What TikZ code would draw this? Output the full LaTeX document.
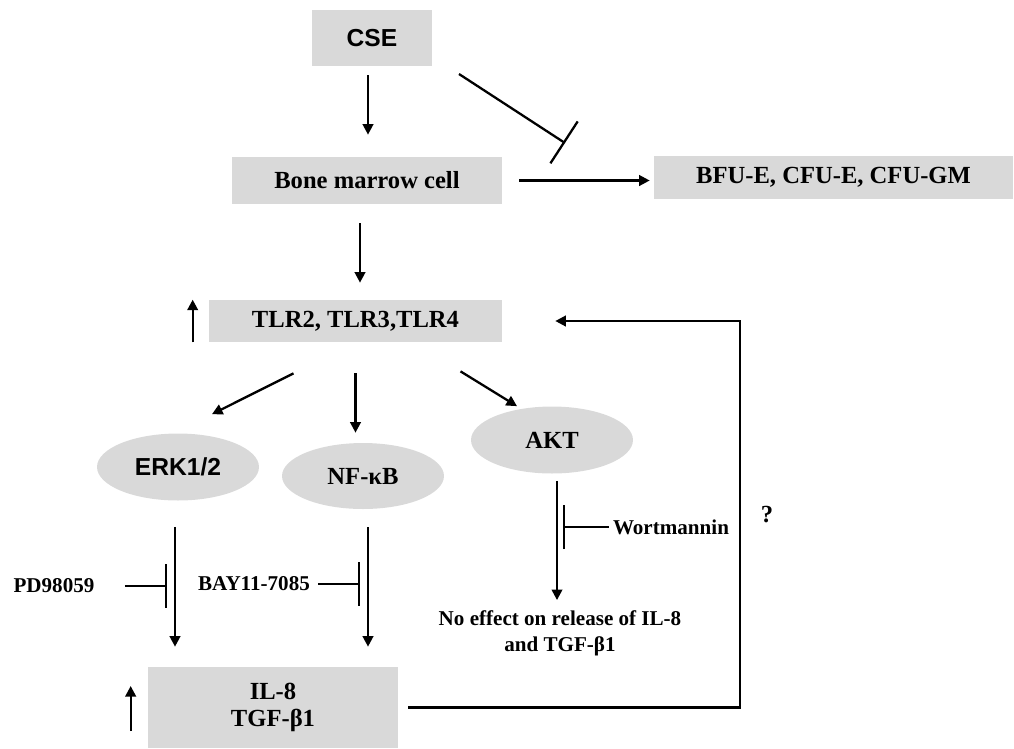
\documentclass[tikz,border=0pt]{standalone}
\usepackage{fontspec}
\setmainfont{Liberation Serif}
\newfontfamily\arialfont{Liberation Sans}
\usetikzlibrary{arrows.meta,shapes.geometric}
\definecolor{boxgray}{RGB}{217,217,217}
\begin{document}
\begin{tikzpicture}[x=0.02cm,y=-0.02cm,
    box/.style={fill=boxgray,inner sep=0pt,font=\fontsize{14}{15.5}\selectfont\bfseries},
    oval/.style={ellipse,fill=boxgray,inner sep=0pt,minimum width=3.24cm,minimum height=1.34cm,font=\fontsize{14}{16}\selectfont\bfseries},
    lbl/.style={inner sep=0pt,font=\fontsize{12}{14.7}\selectfont\bfseries},
    arr/.style={line width=1.3pt,-{Triangle[length=6pt,width=6pt]}},
    inh/.style={line width=1.3pt,-{Bar[width=#1]}},
    inh/.default=0.88cm]
    \useasboundingbox (0,0) rectangle (1014,748);
    \node[box,minimum width=2.4cm,minimum height=1.12cm,font=\fontsize{14}{16}\selectfont\arialfont\bfseries] (cse) at (372,38) {CSE};
    \node[box,minimum width=5.4cm,minimum height=0.94cm] (bmc) at (367,180.5) {Bone marrow cell};
    \node[box,minimum width=7.18cm,minimum height=0.86cm] (bfu) at (833.5,177.5) {BFU-E, CFU-E, CFU-GM};
    \node[box,minimum width=5.86cm,minimum height=0.84cm] (tlr) at (355.5,321) {TLR2, TLR3,TLR4};
    \node[oval,font=\fontsize{14}{16}\selectfont\arialfont\bfseries] (erk) at (178,467) {ERK1/2};
    \node[oval,minimum height=1.32cm] (nfkb) at (363,476) {NF-κB};
    \node[oval] (akt) at (552,440) {AKT};
    \node[box,minimum width=5cm,minimum height=1.62cm,align=center] (il8) at (273,707.5) {IL-8\\TGF-β1};
    \node[lbl] (pd) at (54,586) {PD98059};
    \node[lbl] (bay) at (254,584) {BAY11-7085};
    \node[lbl] (wort) at (671,527) {Wortmannin};
    \node[lbl,align=center] (noeff) at (560,633) {No effect on release of IL-8\\and TGF-β1};
    \node[lbl,font=\fontsize{14}{16}\selectfont\bfseries] (qm) at (767,515) {?};
    \coordinate (cutA) at (459,74);
    \coordinate (cutB) at (565,143);
    \coordinate (fb) at (740,500);
    \draw[arr,shorten <=0.18cm,shorten >=0.44cm] ([xshift=-0.08cm]cse.south) -- ([xshift=-0.08cm]cse.south |- bmc.north);
    \draw[inh=1cm] (cutA) -- (cutB);
    \draw[arr,shorten <=0.34cm,shorten >=0.08cm] (bmc.east) -- (bmc.east -| bfu.west);
    \draw[arr,shorten <=0.38cm,shorten >=0.34cm] ([xshift=-0.14cm]bmc.south) -- ([xshift=-0.14cm]bmc.south |- tlr.north);
    \draw[arr] ([shift={(-62,31)}]tlr.south) -- ([shift={(34,-19)}]erk.north);
    \draw[arr,shorten <=0.62cm,shorten >=0.2cm] (tlr.south) -- (tlr.south |- nfkb.north);
    \draw[arr] ([shift={(105,29)}]tlr.south) -- ([shift={(-35,0)}]akt.north);
    \draw[arr,shorten <=0.52cm,shorten >=0.4cm] ([xshift=-0.06cm]erk.south) -- ([xshift=-0.06cm]erk.south |- il8.north);
    \draw[arr,shorten <=0.36cm,shorten >=0.4cm] ([xshift=0.1cm]nfkb.south) -- ([xshift=0.1cm]nfkb.south |- il8.north);
    \draw[inh,shorten <=0.6cm,shorten >=0.22cm] (pd.east) -- (pd.east -| erk.south);
    \draw[inh,shorten <=0.16cm,shorten >=0.06cm] (bay.east) -- (bay.east -| nfkb.south);
    \draw[arr,shorten <=0.14cm,shorten >=0.2cm] ([xshift=0.1cm]akt.south) -- ([xshift=0.1cm]akt.south |- noeff.north);
    \draw[inh,shorten <=0.08cm,shorten >=0.22cm] (wort.west) -- (wort.west -| akt.south);
    \draw[arr,shorten <=0.2cm,shorten >=1.06cm] (il8.east) -| (fb) |- (tlr.east);
    \draw[arr] ([xshift=-0.32cm]tlr.south west) -- ([xshift=-0.32cm]tlr.north west);
    \draw[arr] ([shift={(-17,23.5)}]il8.west) -- ([shift={(-17,-21.5)}]il8.west);
\end{tikzpicture}
\end{document}
